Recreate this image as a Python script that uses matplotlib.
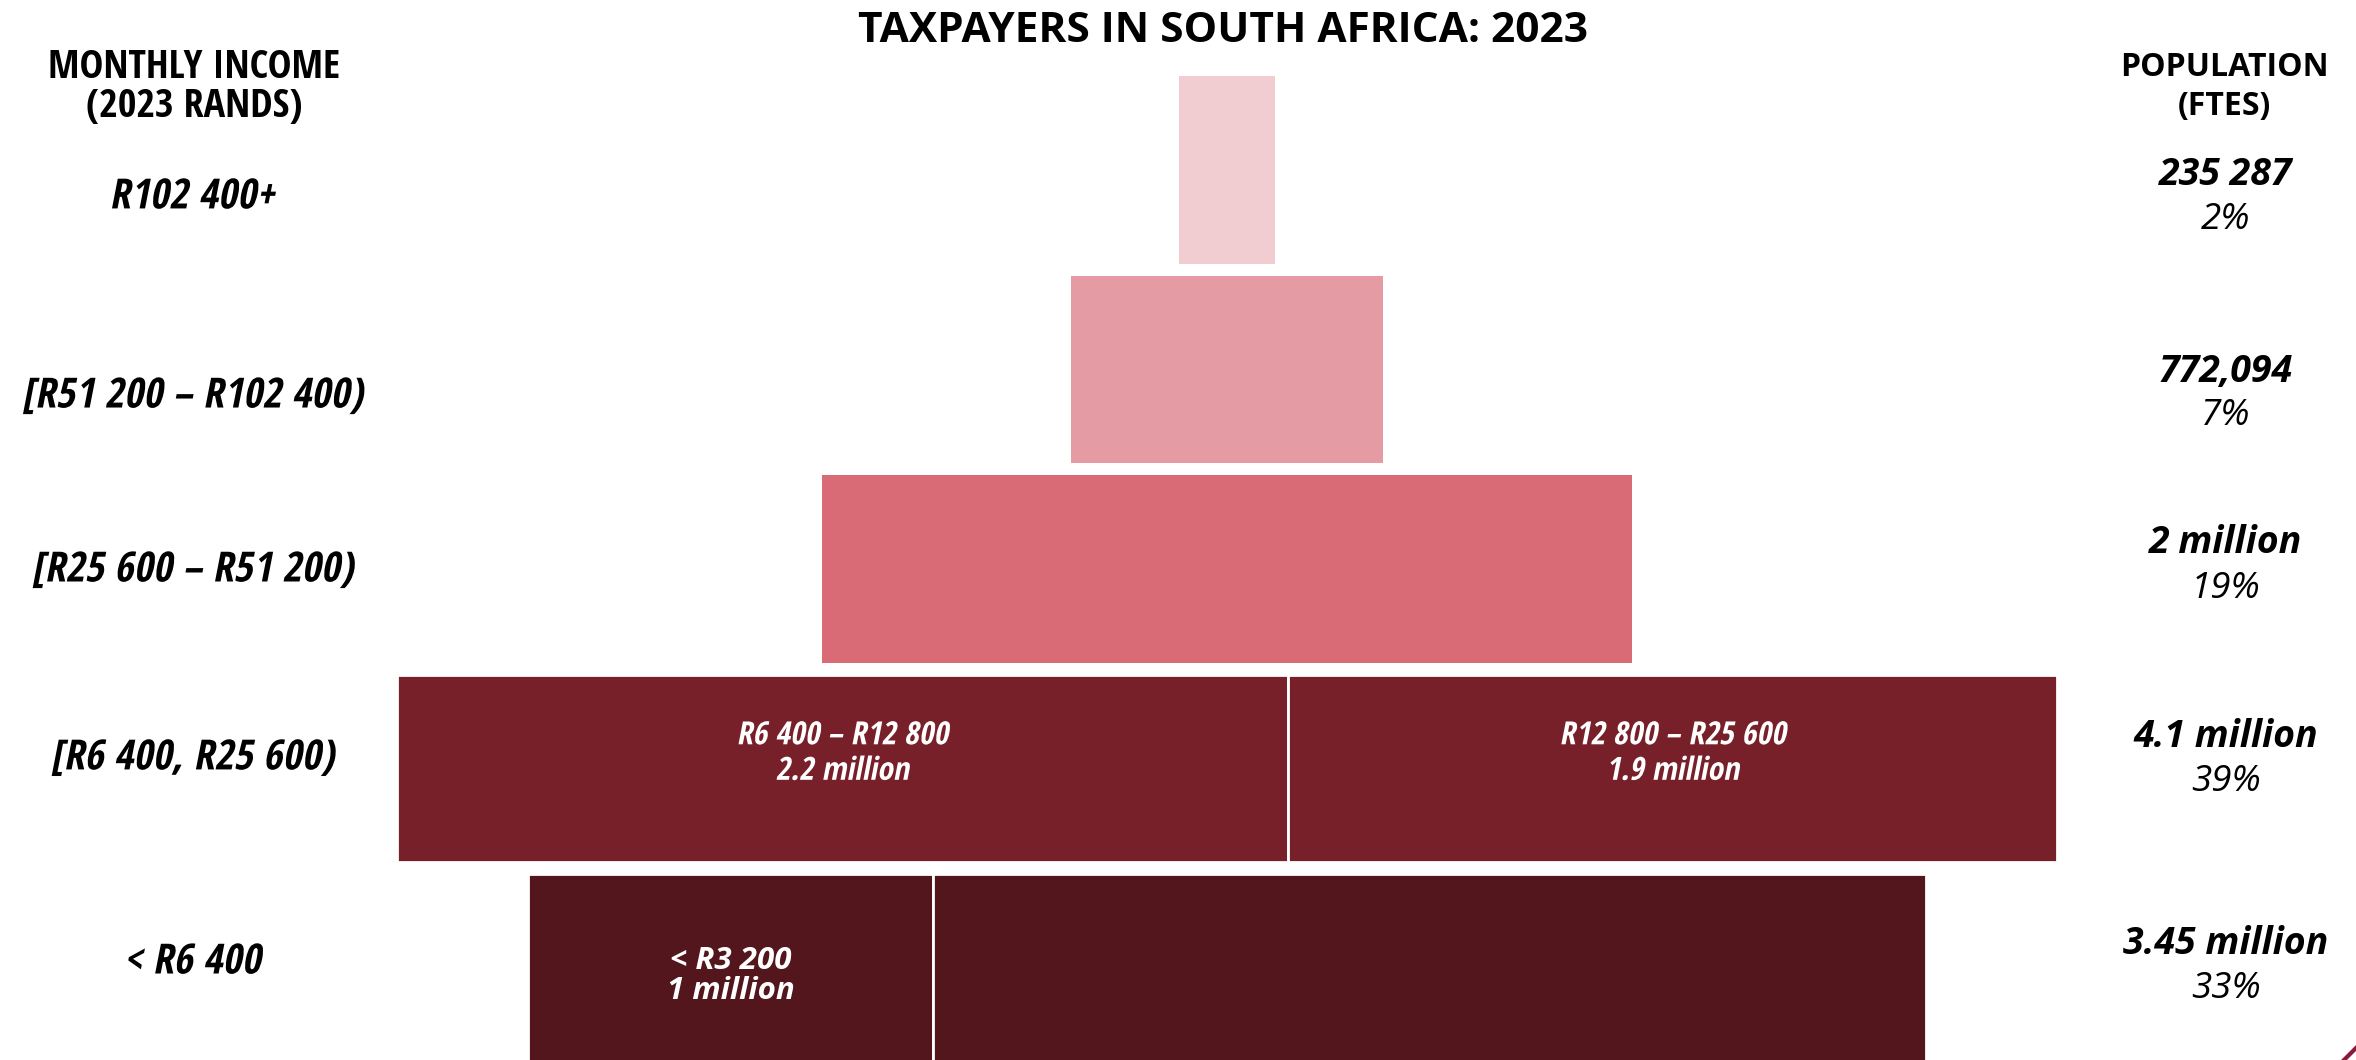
import matplotlib
matplotlib.use("Agg")
import matplotlib.pyplot as plt
from matplotlib.lines import Line2D
from matplotlib.patheffects import AbstractPathEffect
from matplotlib.transforms import Affine2D

# ---- data -------------------------------------------------------------
income_bands = ["R102 400+", "[R51 200 \u2013 R102 400)", "[R25 600 \u2013 R51 200)",
                "[R6 400, R25 600)", "< R6 400"]
population_m = [0.235287, 0.772094, 2.0, 4.1, 3.45]          # millions of FTEs
population_text = ["235 287", "772,094", "2 million", "4.1 million", "3.45 million"]
share_text = ["2%", "7%", "19%", "39%", "33%"]

# sub-bands inside the two lowest rows: (row, width in millions, label)
sub_bands = [
    (3, 2.2, "R6 400 \u2013 R12 800\n2.2 million"),
    (3, 1.9, "R12 800 \u2013 R25 600\n1.9 million"),
    (4, 1.0, "< R3 200\n1 million"),
    (4, 2.45, None),
]


class Oblique(AbstractPathEffect):
    """Slant glyphs about their baseline (the condensed face has no italic)."""

    def __init__(self, angle=11):
        super().__init__()
        self.angle = angle

    def draw_path(self, renderer, gc, tpath, affine, rgbFace=None):
        m = affine.get_matrix()
        x0, y0 = m[0, 2], m[1, 2]
        slant = Affine2D().translate(-x0, -y0).skew_deg(self.angle, 0).translate(x0, y0)
        renderer.draw_path(gc, tpath, affine + slant, rgbFace)


# ---- style ------------------------------------------------------------
colors = ["#F1CDD2", "#E59BA4", "#D96B76", "#78202A", "#52161C"]
condensed = ["Open Sans Condensed", "Liberation Sans Narrow", "Open Sans", "DejaVu Sans"]
regular = ["Open Sans", "DejaVu Sans"]
slant = [Oblique(11)]

W, H, DPI = 2356, 1060, 100
fig = plt.figure(figsize=(W / DPI, H / DPI), dpi=DPI)
ax = fig.add_axes([0, 0, 1, 1])

px_per_m = 405.0
center_px = 1227.0
ax.set_xlim(-center_px / px_per_m, (W - center_px) / px_per_m)
row_px0, row_pitch = 170.0, 199.5
ax.set_ylim((H - row_px0) / row_pitch, -row_px0 / row_pitch)
ax.axis("off")

bar_h = 0.94
rows = list(range(len(population_m)))
split_rows = {s[0] for s in sub_bands}

# main funnel rows (centred)
for r, w, c in zip(rows, population_m, colors):
    if r in split_rows:
        continue
    ax.barh(r, w, left=-w / 2, height=bar_h, color=c, edgecolor="none")

# rows split into sub-bands, with in-bar labels
starts = {}
inbar_dy = {3: -0.075, 4: 0.04}
for r, w, lab in sub_bands:
    left = starts.get(r, -population_m[r] / 2)
    starts[r] = left + w
    ax.barh(r, w, left=left, height=bar_h, color=colors[r],
            edgecolor="white", linewidth=2)
    if lab is None:
        continue
    if r == 3:
        ax.text(left + w / 2, r + inbar_dy[r], lab, ha="center", va="center",
                color="white", fontsize=23, fontweight="bold",
                family=condensed, linespacing=1.1, path_effects=slant)
    else:
        ax.text(left + w / 2, r + inbar_dy[r], lab, ha="center", va="center",
                color="white", fontsize=22.5, fontweight="bold", fontstyle="italic",
                family=regular, linespacing=0.98)

# left: income bands
left_x = 192 / W
left_dy = [0.14, 0.138, 0.01, -0.048, -0.025]
trans_l = ax.get_yaxis_transform()
for r, lab, dy in zip(rows, income_bands, left_dy):
    ax.text(left_x, r + dy, lab, transform=trans_l, ha="center", va="center",
            fontsize=30, fontweight="bold", family=condensed, path_effects=slant)

# right: population and share
right_x = 2226 / W
val_dy = [0.025, 0.012, -0.13, -0.16, -0.12]
pct_dy = [0.25, 0.232, 0.10, 0.066, 0.104]
for r, v, p, dv, dp in zip(rows, population_text, share_text, val_dy, pct_dy):
    ax.text(right_x, r + dv, v, transform=trans_l, ha="center", va="center",
            fontsize=27, fontweight="bold", fontstyle="italic", family=regular)
    ax.text(right_x, r + dp, p, transform=trans_l, ha="center", va="center",
            fontsize=26.5, fontstyle="italic", family=regular)

# headers and title
fig.text(1223 / W, 1 - 31 / H, "TAXPAYERS IN SOUTH AFRICA: 2023", ha="center",
         va="center", fontsize=30.5, fontweight="bold", family=regular)
for txt, y in [("MONTHLY INCOME", 68), ("(2023 RANDS)", 107)]:
    fig.text(194 / W, 1 - y / H, txt, ha="center", va="center",
             fontsize=29, fontweight="bold", family=condensed)
for txt, y in [("POPULATION", 68), ("(FTES)", 107)]:
    fig.text(2224 / W, 1 - y / H, txt, ha="center", va="center",
             fontsize=23, fontweight="bold", family=regular)

# small accent stroke in the lower-right corner
fig.add_artist(Line2D([2344 / W, 2360 / W], [1 - 1060 / H, 1 - 1044 / H],
                      transform=fig.transFigure, color="#8B1A3A", linewidth=3))

fig.savefig("out.png", dpi=DPI, facecolor="white")
